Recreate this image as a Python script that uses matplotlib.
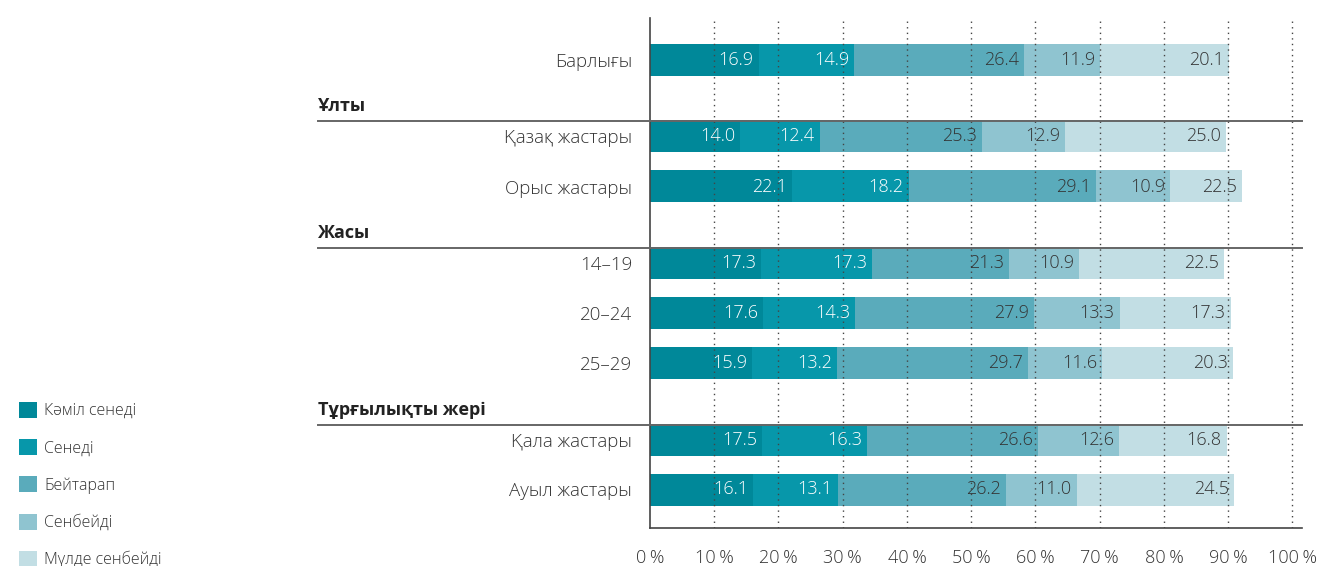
import matplotlib
matplotlib.use("Agg")
import matplotlib.pyplot as plt
import matplotlib.transforms as mtransforms
from matplotlib.patches import Patch

plt.rcParams['font.family'] = ['Open Sans', 'DejaVu Sans']
plt.rcParams['font.weight'] = 'light'

# ---- data ----
series_names = ["Кәміл сенеді", "Сенеді", "Бейтарап", "Сенбейді", "Мүлде сенбейді"]
colors = ["#008899", "#0797AA", "#5AABBB", "#8FC4D0", "#C2DEE4"]
text_colors = ["white", "white", "#333333", "#333333", "#333333"]

groups = ["", "Ұлты", "Жасы", "Тұрғылықты жері"]
categories = [
    ["Барлығы"],
    ["Қазақ жастары", "Орыс жастары"],
    ["14–19", "20–24", "25–29"],
    ["Қала жастары", "Ауыл жастары"],
]
# printed values
values = {
    "Барлығы":       [16.9, 14.9, 26.4, 11.9, 20.1],
    "Қазақ жастары": [14.0, 12.4, 25.3, 12.9, 25.0],
    "Орыс жастары":  [22.1, 18.2, 29.1, 10.9, 22.5],
    "14–19":         [17.3, 17.3, 21.3, 10.9, 22.5],
    "20–24":         [17.6, 14.3, 27.9, 13.3, 17.3],
    "25–29":         [15.9, 13.2, 29.7, 11.6, 20.3],
    "Қала жастары":  [17.5, 16.3, 26.6, 12.6, 16.8],
    "Ауыл жастары":  [16.1, 13.1, 26.2, 11.0, 24.5],
}
# in the source, the last bar of "Орыс жастары" is drawn shorter than its printed label
drawn_widths = {
    "Орыс жастары":  [22.1, 18.2, 29.1, 11.6, 11.2],
}
xticks = [0, 10, 20, 30, 40, 50, 60, 70, 80, 90, 100]

# ---- layout ----
W, H = 1325, 566
fig = plt.figure(figsize=(W / 100, H / 100), dpi=100)
ax = fig.add_axes([650 / W, (H - 528) / H, (1302 - 650) / W, (528 - 18) / H])

GROUP_GAP = 1.53
rows, labels, headers = [], [], []
y = 0.0
for gi, (g, cats) in enumerate(zip(groups, categories)):
    if gi > 0:
        y = rows[-1] + GROUP_GAP
        headers.append((g, y))
    for ci, c in enumerate(cats):
        if ci > 0:
            y += 1.0
        rows.append(y)
        labels.append(c)

bar_h = 0.64
for yi, lab in zip(rows, labels):
    widths = drawn_widths.get(lab, values[lab])
    left = 0.0
    for si, (v, w) in enumerate(zip(values[lab], widths)):
        ax.barh(yi, w, left=left, height=bar_h, color=colors[si], zorder=2, linewidth=0)
        ax.annotate(f"{v:.1f}", xy=(left + w, yi), xytext=(-5, 0), textcoords="offset pixels",
                    ha="right", va="center", fontsize=13, color=text_colors[si], zorder=4)
        left += w

ax.set_xlim(0, 101.5)
ax.set_ylim(9.36, -0.84)

# gridlines
for t in xticks[1:]:
    ax.axvline(t, color="#444444", lw=1.0, ls=(0, (1, 3)), zorder=3)

for s in ["top", "right"]:
    ax.spines[s].set_visible(False)
for s in ["left", "bottom"]:
    ax.spines[s].set_color("#444444")
    ax.spines[s].set_linewidth(1.2)

ax.set_xticks(xticks)
ax.set_xticklabels([f"{t}\u2009%" for t in xticks], fontsize=13, color="#333333")
ax.tick_params(axis="x", length=0, pad=15)
ax.set_yticks(rows)
ax.set_yticklabels(labels, fontsize=13.5, color="#333333")
ax.tick_params(axis="y", length=0, pad=13)

# group headers
trans = mtransforms.blended_transform_factory(fig.transFigure, ax.transData)
for g, ynext in headers:
    fig.text(318 / W, ynext - 0.6, g, transform=trans, fontsize=13, fontweight="bold",
             color="#222222", ha="left", va="center")
    ax.plot([318 / W, 1302 / W], [ynext - 0.3, ynext - 0.3], transform=trans,
            color="#666666", lw=1.4, clip_on=False, zorder=5)

# legend
handles = [Patch(facecolor=c, edgecolor="none") for c in colors]
fig.legend(handles, series_names, loc="upper left", bbox_to_anchor=(14 / W, 1 - 397 / H),
           frameon=False, fontsize=11.5, handlelength=1.15, handleheight=1.15,
           handletextpad=0.45, labelspacing=1.25, labelcolor="#333333", borderaxespad=0,
           borderpad=0.3)

fig.savefig("out.png", dpi=100)
